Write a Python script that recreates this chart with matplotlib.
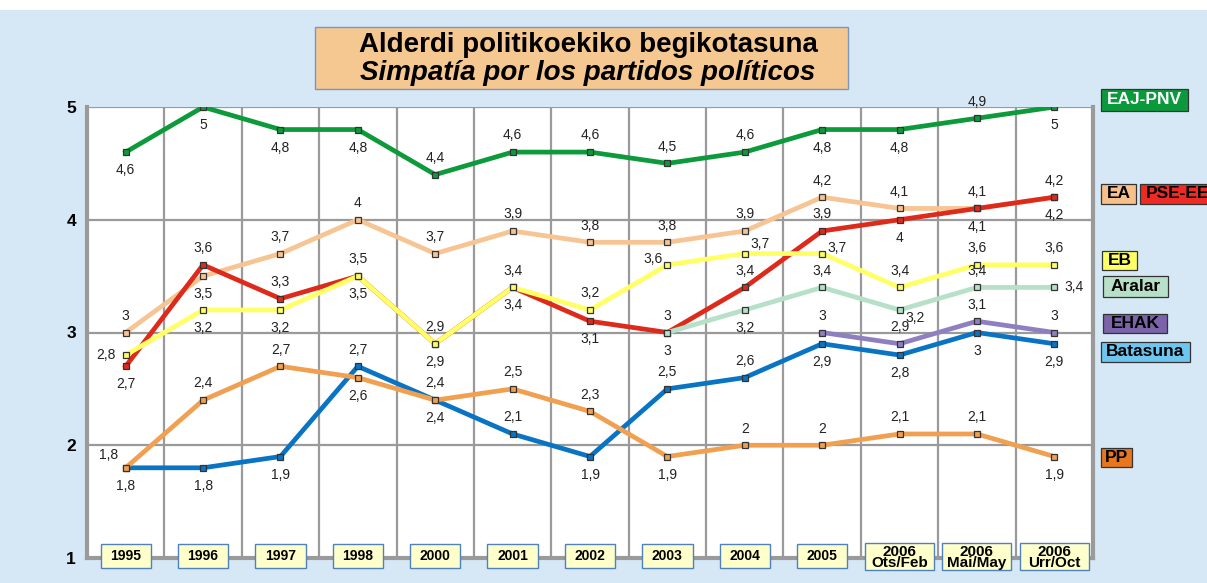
import numpy as np
import matplotlib
matplotlib.use('Agg')
import matplotlib.pyplot as plt
from matplotlib.patches import Rectangle
from matplotlib import font_manager
import matplotlib.transforms as mtransforms

categories = ['1995', '1996', '1997', '1998', '2000', '2001', '2002', '2003',
              '2004', '2005', '2006\nOts/Feb', '2006\nMai/May', '2006\nUrr/Oct']
nan = np.nan
pnv = [4.6, 5, 4.8, 4.8, 4.4, 4.6, 4.6, 4.5, 4.6, 4.8, 4.8, 4.9, 5]
ea = [3, 3.5, 3.7, 4, 3.7, 3.9, 3.8, 3.8, 3.9, 4.2, 4.1, 4.1, 4.2]
pse = [2.7, 3.6, 3.3, 3.5, 2.9, 3.4, 3.1, 3, 3.4, 3.9, 4, 4.1, 4.2]
eb = [2.8, 3.2, 3.2, 3.5, 2.9, 3.4, 3.2, 3.6, 3.7, 3.7, 3.4, 3.6, 3.6]
aralar = [nan] * 7 + [3, 3.2, 3.4, 3.2, 3.4, 3.4]
ehak = [nan] * 9 + [3, 2.9, 3.1, 3]
batasuna = [1.8, 1.8, 1.9, 2.7, 2.4, 2.1, 1.9, 2.5, 2.6, 2.9, 2.8, 3, 2.9]
pp = [1.8, 2.4, 2.7, 2.6, 2.4, 2.5, 2.3, 1.9, 2, 2, 2.1, 2.1, 1.9]
yticks = [1, 2, 3, 4, 5]
party_names = ['EAJ-PNV', 'EA', 'PSE-EE', 'EB', 'Aralar', 'EHAK', 'Batasuna', 'PP']

# label placement codes (style only)
OFF = {'a': (0, 12), 'b': (0, -13), 'l': (-14, 0), 'r': (14, 0),
       'al': (-10, 4), 'ar': (11, 7), 'ar2': (11, 4), 'br': (11, -6),
       'al2': (-12, 9)}
pl_pnv = ['b', 'b', 'b', 'b', 'a', 'a', 'a', 'a', 'a', 'b', 'b', 'a', 'b']
pl_ea = ['a', 'b', 'a', 'a', 'a', 'a', 'a', 'a', 'a', 'a', 'a', 'a', 'a']
pl_pse = ['b', 'a', 'a', 'a', 'a', 'a', 'b', 'a', 'a', 'a', 'b', 'b', 'b']
pl_eb = ['l', 'b', 'b', 'b', 'b', 'b', 'a', 'al', 'ar', 'ar2', 'a', 'a', 'a']
pl_aralar = [None] * 7 + ['b', 'b', 'a', 'br', 'a', 'r']
pl_ehak = [None] * 9 + ['a', 'a', 'a', 'a']
pl_bat = ['b', 'b', 'b', 'a', 'b', 'a', 'b', 'a', 'a', 'b', 'b', 'b', 'b']
pl_pp = ['al2', 'a', 'a', 'b', 'a', 'a', 'a', 'b', 'a', 'a', 'a', 'a', 'b']

def has_font(name):
    try:
        font_manager.findfont(font_manager.FontProperties(family=name), fallback_to_default=False)
        return True
    except Exception:
        return False

base = 'Liberation Sans' if has_font('Liberation Sans') else 'DejaVu Sans'
plt.rcParams['font.family'] = [base, 'DejaVu Sans']

W, H = 1207, 583
fig = plt.figure(figsize=(W / 100, H / 100), dpi=100)
fig.patch.set_facecolor('#d6e8f5')
fig.patches.append(Rectangle((0, 1 - 10 / H), 1, 10 / H, transform=fig.transFigure,
                             facecolor='white', edgecolor='none', zorder=0))

ax = fig.add_axes([87 / W, 1 - 558 / H, (1093 - 87) / W, (558 - 107) / H])
ax.set_facecolor('white')
x = np.arange(len(categories))
ax.set_xlim(-0.5, len(categories) - 0.5)
ax.set_ylim(1, 5)
ax.set_yticks(yticks)
ax.set_yticklabels([str(v) for v in yticks], fontsize=12.5, fontweight='bold')
ax.tick_params(axis='y', length=0, pad=8)
ax.set_xticks(x)
ax.set_xticklabels([])
ax.tick_params(axis='x', length=0)
ax.set_xticks(x[:-1] + 0.5, minor=True)
ax.tick_params(axis='x', which='minor', length=0)
ax.grid(True, axis='y', which='major', color='#9a9a9a', lw=1.6, zorder=0)
ax.grid(True, axis='x', which='minor', color='#9a9a9a', lw=1.6, zorder=0)
ax.set_axisbelow(True)
for s in ['left', 'bottom', 'right']:
    ax.spines[s].set_color('#9a9a9a')
    ax.spines[s].set_linewidth(3)
ax.spines['top'].set_visible(False)

series = [
    (ea, '#f6c593', pl_ea, 3),
    (pse, '#de2a1a', pl_pse, 4),
    (eb, '#ffff66', pl_eb, 5),
    (aralar, '#b6e0c8', pl_aralar, 6),
    (ehak, '#8e7fc0', pl_ehak, 7),
    (batasuna, '#0a74c4', pl_bat, 8),
    (pp, '#f0a050', pl_pp, 9),
    (pnv, '#0c9a3a', pl_pnv, 10),
]
for vals, col, pls, z in series:
    v = np.array(vals, dtype=float)
    ax.plot(x, v, color=col, lw=3.4, marker='s', markersize=4.8,
            markerfacecolor=col, markeredgecolor='#333333', markeredgewidth=0.9,
            zorder=z, solid_joinstyle='round')
    for xi, yi, p in zip(x, v, pls):
        if np.isnan(yi) or p is None:
            continue
        dx, dy = OFF[p]
        ax.annotate(f'{yi:g}'.replace('.', ','), (xi, yi), xytext=(dx, dy),
                    textcoords='offset points', ha='center', va='center',
                    fontsize=10, color='#222222', zorder=20, annotation_clip=False)

# category boxes
trans = mtransforms.blended_transform_factory(ax.transData, ax.transAxes)
axh = 558 - 107
for xi, lab in zip(x, categories):
    two = '\n' in lab
    w = 0.89 if two else 0.65
    top, bot = (543, 570) if two else (544, 568)
    y0 = (558 - bot) / axh
    h = (bot - top) / axh
    ax.add_patch(Rectangle((xi - w / 2, y0), w, h, transform=trans, facecolor='#ffffcc',
                           edgecolor='#4f81bd', lw=1.0, clip_on=False, zorder=30))
    ax.text(xi, y0 + h / 2 - (0.002 if two else 0.0), lab, transform=trans, ha='center',
            va='center', fontsize=11 if two else 10, fontweight='bold', linespacing=0.72,
            zorder=31, clip_on=False)

# title box
fig.patches.append(Rectangle((315 / W, 1 - 89 / H), 533 / W, 62 / H, transform=fig.transFigure,
                             facecolor='#f5c891', edgecolor='#7f95b5', lw=1.0, zorder=1))
fig.text(588 / W, 1 - 45 / H, 'Alderdi politikoekiko begikotasuna', ha='center', va='center',
         fontsize=20, fontweight='bold', zorder=2)
fig.text(588 / W, 1 - 73 / H, 'Simpatía por los partidos políticos', ha='center', va='center',
         fontsize=20, fontweight='bold', style='italic', zorder=2)

# legend boxes (pixel boxes: x0, x1, y0, y1)
legend_style = [
    (1101, 1188, 89, 111, '#0a9a3c', 'white'),
    (1101, 1136, 184, 204, '#f7c08a', 'black'),
    (1140, 1215, 184, 204, '#ee2a24', 'black'),
    (1102, 1137, 251, 270, '#ffff66', 'black'),
    (1103, 1168, 276, 297, '#b8e0c8', 'black'),
    (1103, 1167, 314, 333, '#7a63a8', 'black'),
    (1101, 1190, 342, 362, '#6ec6f0', 'black'),
    (1101, 1132, 448, 467, '#e8761e', 'black'),
]
for lab, (x0, x1, y0, y1, fc, tc) in zip(party_names, legend_style):
    fig.patches.append(Rectangle((x0 / W, 1 - y1 / H), (x1 - x0) / W, (y1 - y0) / H,
                                 transform=fig.transFigure, facecolor=fc,
                                 edgecolor='#333333', lw=0.9, zorder=4))
    if lab == 'PSE-EE':
        fig.text((x0 + 6) / W, 1 - (y0 + y1) / 2 / H, lab, ha='left', va='center',
                 fontsize=12.5, fontweight='bold', color=tc, zorder=5)
    else:
        fig.text((x0 + x1) / 2 / W, 1 - (y0 + y1) / 2 / H, lab, ha='center', va='center',
                 fontsize=12.5, fontweight='bold', color=tc, zorder=5)

fig.savefig('out.png', dpi=100, facecolor=fig.get_facecolor())
